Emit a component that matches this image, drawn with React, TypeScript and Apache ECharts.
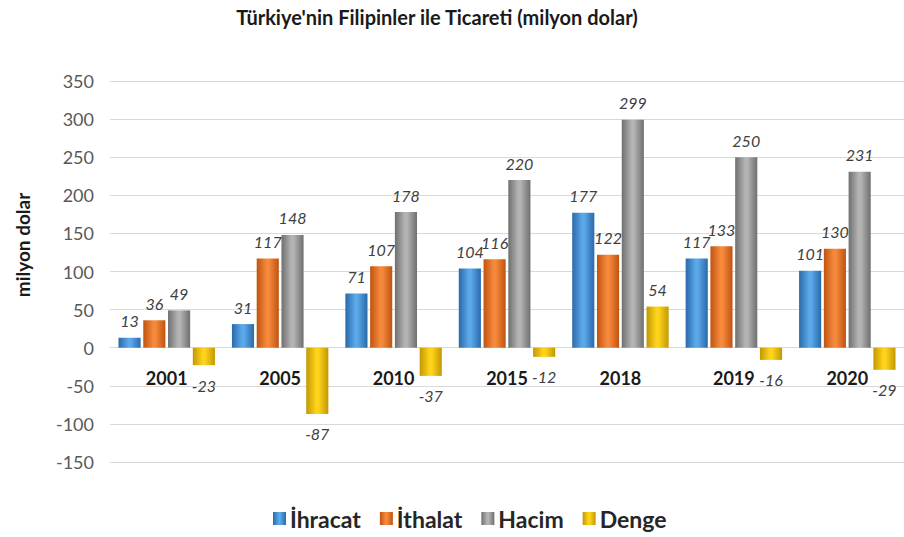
import React, { useEffect, useRef } from "react";
import * as echarts from "echarts";

const categories = ["2001", "2005", "2010", "2015", "2018", "2019", "2020"];
const ihracat = [13, 31, 71, 104, 177, 117, 101];
const ithalat = [36, 117, 107, 116, 122, 133, 130];
const hacim = [49, 148, 178, 220, 299, 250, 231];
const denge = [-23, -87, -37, -12, 54, -16, -29];
const seriesNames = ["İhracat", "İthalat", "Hacim", "Denge"];

const FONT = "Lato, 'Open Sans', sans-serif";

const grad = (edge: string, mid: string) =>
  new echarts.graphic.LinearGradient(0, 0, 1, 0, [
    { offset: 0, color: edge },
    { offset: 0.45, color: mid },
    { offset: 0.55, color: mid },
    { offset: 1, color: edge },
  ]);

const palettes: [string, string][] = [
  ["#2a69a8", "#5ba8ea"],
  ["#c0530f", "#f58a3d"],
  ["#6f6f6f", "#b4b4b4"],
  ["#c29800", "#ffd31c"],
];

export default function App() {
  const ref = useRef<HTMLDivElement>(null);
  useEffect(() => {
    if (!ref.current) return;
    const chart = echarts.init(ref.current, null, { renderer: "svg" });
    const all = [ihracat, ithalat, hacim, denge];
    const series = all.map((vals, i) => ({
      name: seriesNames[i],
      type: "bar",
      barCategoryGap: "15%",
      barGap: "12%",
      itemStyle: { color: grad(palettes[i][0], palettes[i][1]) },
      data: vals.map((v) => ({
        value: v,
        label: {
          show: true,
          position: v < 0 ? "bottom" : "top",
          distance: v < 0 ? 12 : 9,
        },
      })),
      label: {
        show: true,
        fontStyle: "italic",
        fontFamily: FONT,
        fontSize: 16,
        color: "#404040",
      },
    }));
    chart.setOption({
      animation: false,
      title: {
        text: "Türkiye'nin Filipinler ile Ticareti (milyon dolar)",
        left: 432,
        textAlign: "center",
        top: 2,
        textStyle: { fontFamily: FONT, fontWeight: "bold", fontSize: 20, color: "#1a1a1a" },
      },
      legend: {
        data: seriesNames.map((n, i) => ({
          name: n,
          itemStyle: { color: grad(palettes[i][0], palettes[i][1]) },
        })),
        top: 502,
        left: 268,
        icon: "rect",
        itemWidth: 13,
        itemHeight: 13,
        itemGap: 19,
        textStyle: { fontFamily: FONT, fontWeight: "bold", fontSize: 23, color: "#262626", padding: [0, 0, 0, -1] },
      },
      graphic: [
        {
          type: "text",
          x: 22,
          y: 245,
          rotation: Math.PI / 2,
          style: {
            text: "milyon dolar",
            fontFamily: FONT,
            fontWeight: "bold",
            fontSize: 19,
            fill: "#1a1a1a",
            align: "center",
            verticalAlign: "middle",
          },
        },
      ],
      grid: { left: 110, right: -8, top: 81, bottom: 75 },
      xAxis: {
        type: "category",
        data: categories,
        offset: -115,
        axisLine: { onZero: false, lineStyle: { color: "#d9d9d9" } },
        axisTick: { show: false },
        axisLabel: {
          margin: 22,
          fontFamily: FONT,
          fontWeight: "bold",
          fontSize: 18,
          color: "#1a1a1a",
        },
      },
      yAxis: {
        type: "value",
        min: -150,
        max: 350,
        interval: 50,
        axisLine: { show: false },
        axisTick: { show: false },
        splitLine: { lineStyle: { color: "#d9d9d9" } },
        axisLabel: { margin: 16, fontFamily: FONT, fontSize: 18, color: "#595959" },
      },
      series,
    });
    return () => chart.dispose();
  }, []);
  return (
    <div
      ref={ref}
      style={{ position: "fixed", left: 0, top: 0, width: 904, height: 537, background: "#fff" }}
    />
  );
}
